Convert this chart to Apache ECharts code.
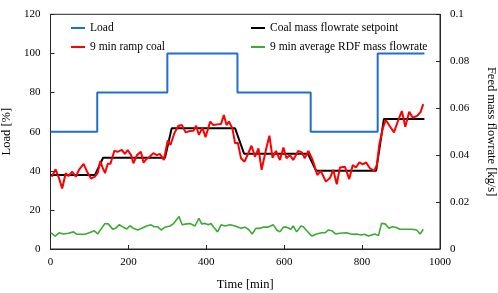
<!DOCTYPE html>
<html>
<head>
<meta charset="utf-8">
<script src="https://cdn.jsdelivr.net/npm/echarts@6/dist/echarts.min.js"></script>
<style>html,body{margin:0;padding:0;background:#fff}#c{width:498px;height:293px}</style>
</head>
<body>
<div id="c"></div>
<script>
// Load [%] step profile
const loadTimes = [0, 120, 300, 480, 668, 840, 960];
const loadValues = [60, 80, 100, 80, 60, 100, 100];

// Coal mass flowrate setpoint [kg/s]
const setTimes = [0, 114, 135, 294, 311, 474, 497, 661, 682, 836, 856, 960];
const setValues = [0.0315, 0.0315, 0.0389, 0.0389, 0.0514, 0.0514, 0.0406, 0.0406, 0.0333, 0.0333, 0.0554, 0.0554];

// 9 min ramp coal [kg/s]
const coalTimes = [3,13,22,30,39,46,56,65,73,85,94,104,114,121,128,133,140,147,154,164,172,183,191,198,207,213,222,232,239,246,253,264,273,281,291,301,308,318,328,337,347,358,367,374,381,390,398,410,418,429,438,445,452,458,467,474,481,489,498,508,516,525,534,542,553,562,570,579,589,598,606,615,623,636,645,653,662,673,685,694,707,718,726,735,743,756,767,776,784,793,802,810,820,831,838,844,853,861,872,882,890,902,911,921,930,942,950,957];
const coalValues = [0.0308,0.0339,0.0301,0.0258,0.0323,0.0311,0.0329,0.0308,0.0337,0.0363,0.0329,0.0300,0.0308,0.0323,0.0375,0.0350,0.0323,0.0363,0.0363,0.0419,0.0414,0.0422,0.0405,0.0422,0.0400,0.0365,0.0400,0.0414,0.0368,0.0383,0.0391,0.0408,0.0400,0.0405,0.0379,0.0462,0.0443,0.0493,0.0524,0.0528,0.0497,0.0503,0.0504,0.0525,0.0486,0.0517,0.0476,0.0543,0.0528,0.0531,0.0533,0.0571,0.0528,0.0543,0.0514,0.0450,0.0453,0.0387,0.0372,0.0408,0.0440,0.0393,0.0429,0.0337,0.0422,0.0483,0.0389,0.0418,0.0379,0.0432,0.0387,0.0400,0.0379,0.0418,0.0412,0.0387,0.0418,0.0379,0.0315,0.0333,0.0287,0.0304,0.0337,0.0276,0.0347,0.0350,0.0298,0.0358,0.0347,0.0369,0.0361,0.0369,0.0344,0.0333,0.0358,0.0443,0.0514,0.0550,0.0521,0.0497,0.0536,0.0588,0.0521,0.0585,0.0559,0.0568,0.0583,0.0617];

// 9 min average RDF mass flowrate [kg/s]
const rdfTimes = [1,12,22,33,46,59,67,89,106,112,121,131,140,148,160,167,176,187,196,204,213,224,234,247,258,266,275,284,294,307,315,330,338,350,358,371,381,388,397,405,412,418,429,438,448,461,474,489,499,508,518,527,538,546,558,572,581,589,598,606,617,623,632,643,649,658,671,683,696,705,713,722,732,743,760,773,786,797,806,816,825,833,842,850,859,869,878,886,897,915,927,940,949,957];
const rdfValues = [0.0069,0.0055,0.0069,0.0064,0.0067,0.0073,0.0063,0.0063,0.0073,0.0078,0.0064,0.0088,0.0109,0.0107,0.0084,0.0088,0.0103,0.0093,0.0085,0.0099,0.0088,0.0081,0.0088,0.0098,0.0103,0.0095,0.0095,0.0081,0.0093,0.0098,0.0107,0.0138,0.0103,0.0107,0.0109,0.0098,0.0131,0.0107,0.0109,0.0103,0.0109,0.0095,0.0073,0.0103,0.0098,0.0103,0.0098,0.0088,0.0093,0.0084,0.0064,0.0088,0.0088,0.0093,0.0093,0.0103,0.0081,0.0073,0.0093,0.0093,0.0084,0.0098,0.0073,0.0098,0.0095,0.0078,0.0055,0.0064,0.0069,0.0069,0.0081,0.0078,0.0064,0.0067,0.0069,0.0063,0.0064,0.0060,0.0063,0.0055,0.0060,0.0064,0.0057,0.0109,0.0107,0.0088,0.0095,0.0093,0.0084,0.0084,0.0084,0.0081,0.0064,0.0084];

const zip = (a, b) => a.map((t, i) => [t, b[i]]);
const FONT = 'Liberation Serif';
const axisCol = '#262626';
const legendText = {fontFamily: FONT, fontSize: 11.5, color: '#000', lineHeight: 12};

const chart = echarts.init(document.getElementById('c'), null, {renderer: 'canvas'});
chart.setOption({
  animation: false,
  backgroundColor: '#fff',
  textStyle: {fontFamily: FONT, color: '#000'},
  grid: {left: 50.5, right: 58, top: 14.3, bottom: 44, show: true, borderColor: axisCol, borderWidth: 1,
         containLabel: false, outerBoundsMode: 'none'},
  legend: [
    {data: ['Load', '9 min ramp coal'], orient: 'vertical', left: 66, top: 17, icon: 'rect',
     itemWidth: 14, itemHeight: 2, itemGap: 7, textStyle: legendText},
    {data: ['Coal mass flowrate setpoint', '9 min average RDF mass flowrate'], orient: 'vertical', left: 246, top: 17, icon: 'rect',
     itemWidth: 14, itemHeight: 2, itemGap: 7, textStyle: legendText}
  ],
  xAxis: {
    type: 'value', min: 0, max: 1000, interval: 200,
    name: 'Time [min]', nameLocation: 'middle', nameGap: 29,
    nameTextStyle: {fontFamily: FONT, fontSize: 12.5, color: '#000'},
    axisLine: {lineStyle: {color: axisCol}},
    axisTick: {inside: true, length: 4, lineStyle: {color: axisCol}},
    axisLabel: {fontFamily: FONT, fontSize: 11, color: '#000', margin: 8, formatter: v => String(v)},
    splitLine: {show: false}
  },
  yAxis: [
    {
      type: 'value', min: 0, max: 120, interval: 20, position: 'left',
      name: 'Load [%]', nameLocation: 'middle', nameGap: 36, nameRotate: 90,
      nameTextStyle: {fontFamily: FONT, fontSize: 12.5, color: '#000'},
      axisLine: {show: true, lineStyle: {color: axisCol}},
      axisTick: {show: true, inside: true, length: 4, lineStyle: {color: axisCol}},
      axisLabel: {fontFamily: FONT, fontSize: 11, color: '#000', margin: 10},
      splitLine: {show: false}
    },
    {
      type: 'value', min: 0, max: 0.1, interval: 0.02, position: 'right',
      name: 'Feed mass flowrate [kg/s]', nameLocation: 'middle', nameGap: 45, nameRotate: -90,
      nameTextStyle: {fontFamily: FONT, fontSize: 12.5, color: '#000'},
      axisLine: {show: true, lineStyle: {color: axisCol}},
      axisTick: {show: true, inside: true, length: 4, lineStyle: {color: axisCol}},
      axisLabel: {fontFamily: FONT, fontSize: 11, color: '#000', margin: 10},
      splitLine: {show: false}
    }
  ],
  series: [
    {name: 'Load', type: 'line', step: 'end', yAxisIndex: 0, data: zip(loadTimes, loadValues),
     symbol: 'none', lineStyle: {color: '#1f6fd1', width: 2}, itemStyle: {color: '#1f6fd1'}},
    {name: 'Coal mass flowrate setpoint', type: 'line', yAxisIndex: 1, data: zip(setTimes, setValues),
     symbol: 'none', lineStyle: {color: '#000', width: 2}, itemStyle: {color: '#000'}},
    {name: '9 min ramp coal', type: 'line', yAxisIndex: 1, data: zip(coalTimes, coalValues),
     symbol: 'none', lineStyle: {color: '#ff0000', width: 2}, itemStyle: {color: '#ff0000'}},
    {name: '9 min average RDF mass flowrate', type: 'line', yAxisIndex: 1, data: zip(rdfTimes, rdfValues),
     symbol: 'none', lineStyle: {color: '#3bab32', width: 1.6}, itemStyle: {color: '#3bab32'}}
  ]
});
</script>
</body>
</html>
